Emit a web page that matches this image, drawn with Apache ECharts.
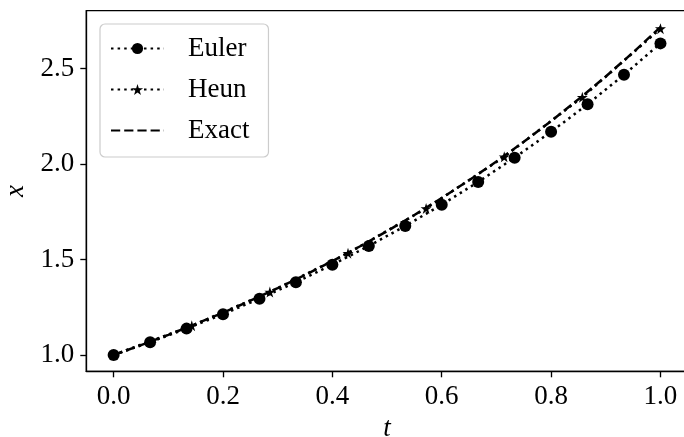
<!DOCTYPE html>
<html>
<head>
<meta charset="utf-8">
<script src="https://cdn.jsdelivr.net/npm/echarts@6/dist/echarts.min.js"></script>
<style>
  html, body { margin: 0; padding: 0; background: #fff; }
  #chart { width: 684px; height: 437px; }
</style>
</head>
<body>
<div id="chart"></div>
<script>
// Forward Euler, step 1/15
const eulerT = [0, 0.0667, 0.1333, 0.2, 0.2667, 0.3333, 0.4, 0.4667, 0.5333, 0.6, 0.6667, 0.7333, 0.8, 0.8667, 0.9333, 1.0];
const eulerX = [1.0, 1.0667, 1.1378, 1.2136, 1.2945, 1.3808, 1.4729, 1.5711, 1.6758, 1.7876, 1.9067, 2.0338, 2.1694, 2.3141, 2.4683, 2.6329];

// Heun, step 1/7
const heunT = [0, 0.1429, 0.2857, 0.4286, 0.5714, 0.7143, 0.8571, 1.0];
const heunX = [1.0, 1.1531, 1.3296, 1.5331, 1.7677, 2.0383, 2.3503, 2.7100];

// Exact solution
const exactT = [0, 0.05, 0.1, 0.15, 0.2, 0.25, 0.3, 0.35, 0.4, 0.45, 0.5, 0.55, 0.6, 0.65, 0.7, 0.75, 0.8, 0.85, 0.9, 0.95, 1.0];
const exactX = [1.0, 1.0513, 1.1052, 1.1618, 1.2214, 1.2840, 1.3499, 1.4191, 1.4918, 1.5683, 1.6487, 1.7333, 1.8221, 1.9155, 2.0138, 2.1170, 2.2255, 2.3396, 2.4596, 2.5857, 2.7183];

const xTicks = [0.0, 0.2, 0.4, 0.6, 0.8, 1.0];
const yTicks = [1.0, 1.5, 2.0, 2.5];

const pair = (ts, xs) => ts.map((t, i) => [t, xs[i]]);

const FONT = '"Liberation Serif", "DejaVu Serif", serif';
const STAR = 'path://M50,0 L61.2,34.5 L97.6,34.5 L68.2,55.9 L79.4,90.5 L50,69.1 L20.6,90.5 L31.8,55.9 L2.4,34.5 L38.8,34.5 Z';

const chart = echarts.init(document.getElementById('chart'), null, { renderer: 'canvas' });

const axisCommon = {
  type: 'value',
  splitLine: { show: false },
  axisLine: { show: true, onZero: false, lineStyle: { color: '#000', width: 1.33 } },
  axisTick: { show: true, inside: false, length: 6, lineStyle: { color: '#000', width: 1.33 } },
  nameTextStyle: { fontFamily: FONT, fontStyle: 'italic', fontSize: 27, color: '#000' }
};

chart.setOption({
  animation: false,
  backgroundColor: '#fff',
  grid: {
    left: 86.3, top: 10.7, bottom: 65.7, right: -3.8,
    outerBoundsMode: 'none', containLabel: false,
    show: true, borderColor: '#000', borderWidth: 1.33, backgroundColor: 'transparent'
  },
  xAxis: Object.assign({}, axisCommon, {
    min: -0.05, max: 1.05,
    name: 't', nameLocation: 'middle', nameGap: 44,
    axisTick: Object.assign({}, axisCommon.axisTick, { customValues: xTicks }),
    axisLabel: {
      customValues: xTicks, margin: 12,
      fontFamily: FONT, fontSize: 27, color: '#000',
      formatter: v => v.toFixed(1)
    }
  }),
  yAxis: Object.assign({}, axisCommon, {
    min: 0.91409, max: 2.80419,
    name: 'x', nameLocation: 'middle', nameGap: 54,
    axisTick: Object.assign({}, axisCommon.axisTick, { customValues: yTicks }),
    axisLabel: {
      customValues: yTicks, margin: 12,
      fontFamily: FONT, fontSize: 27, color: '#000',
      formatter: v => v.toFixed(1)
    }
  }),
  legend: {
    orient: 'vertical', left: 100, top: 24,
    padding: [11, 19, 13, 10],
    itemWidth: 53, itemHeight: 14, itemGap: 14,
    backgroundColor: 'rgba(255,255,255,0.8)',
    borderColor: '#cccccc', borderWidth: 1.2, borderRadius: 5,
    textStyle: { fontFamily: FONT, fontSize: 27, color: '#000', lineHeight: 27, padding: [0, 0, 0, 19] },
    data: [
      { name: 'Euler' },
      { name: 'Heun' },
      { name: 'Exact', itemStyle: { color: 'rgba(0,0,0,0)', borderWidth: 0 } }
    ]
  },
  series: [
    {
      name: 'Euler', type: 'line', data: pair(eulerT, eulerX),
      symbol: 'circle', symbolSize: 12,
      itemStyle: { color: '#000' },
      lineStyle: { color: '#000', width: 2.5, type: [2.5, 4.1] }
    },
    {
      name: 'Heun', type: 'line', data: pair(heunT, heunX),
      symbol: STAR, symbolSize: 11,
      itemStyle: { color: '#000' },
      lineStyle: { color: '#000', width: 2.5, type: [2.5, 4.1] }
    },
    {
      name: 'Exact', type: 'line', data: pair(exactT, exactX),
      symbol: 'none',
      itemStyle: { color: '#000' },
      lineStyle: { color: '#000', width: 2.5, type: [9.2, 4] }
    }
  ]
});
</script>
</body>
</html>
